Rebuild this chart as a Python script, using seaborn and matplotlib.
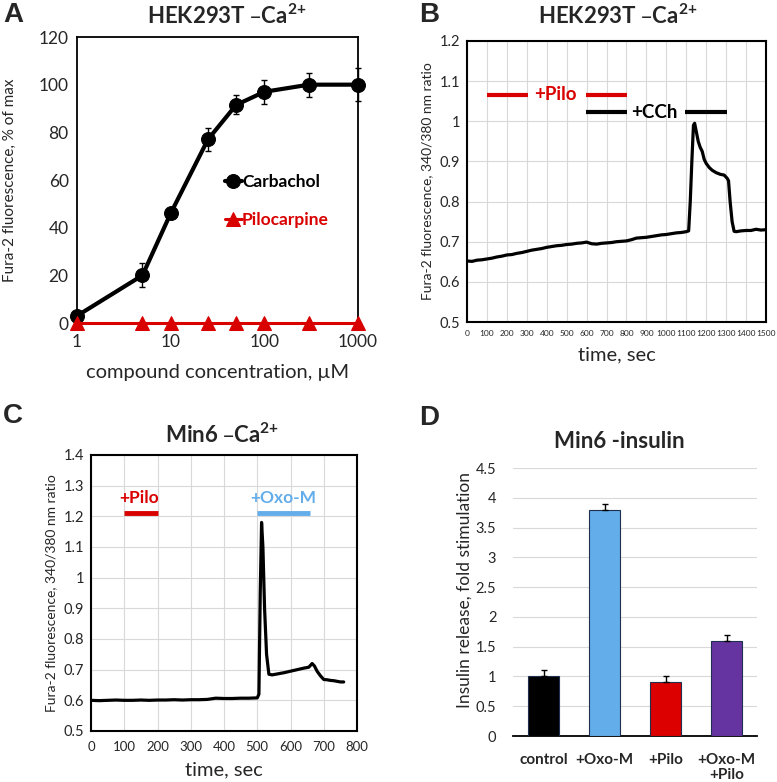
import numpy as np
import pandas as pd
import matplotlib
matplotlib.use("Agg")
import matplotlib.pyplot as plt
from matplotlib.ticker import FuncFormatter, MultipleLocator
import seaborn as sns

# --- Panel A: concentration-response ---
conc = [1, 5, 10, 25, 50, 100, 300, 1000]
carbachol = [3, 20, 46, 77, 91.5, 97, 100, 100]
carbachol_err = [1, 5, 1.5, 5, 4, 5, 5, 7]
pilocarpine = [0, 0, 0, 0, 0, 0, 0, 0]

# --- Panel B: HEK293T trace ---
time_b = [0, 25, 50, 75, 100, 125, 150, 175, 200, 225, 250, 275, 300, 325, 350,
          375, 400, 425, 450, 475, 500, 525, 550, 575, 600, 625, 650, 675, 700,
          725, 750, 775, 800, 825, 850, 875, 900, 925, 950, 975, 1000, 1025,
          1050, 1075, 1100, 1112, 1120, 1128, 1136, 1142, 1150, 1160, 1170,
          1180, 1190, 1200, 1215, 1230, 1250, 1270, 1290, 1305, 1312, 1320,
          1330, 1340, 1350, 1375, 1400, 1425, 1450, 1475, 1500]
ratio_b = [0.652, 0.651, 0.654, 0.655, 0.657, 0.659, 0.662, 0.664, 0.667, 0.668,
           0.671, 0.673, 0.676, 0.679, 0.681, 0.683, 0.686, 0.688, 0.690, 0.691,
           0.693, 0.694, 0.696, 0.697, 0.699, 0.695, 0.694, 0.696, 0.697, 0.698,
           0.700, 0.701, 0.702, 0.705, 0.709, 0.710, 0.711, 0.713, 0.715, 0.717,
           0.718, 0.720, 0.722, 0.723, 0.725, 0.727, 0.800, 0.900, 0.990, 0.995,
           0.975, 0.950, 0.935, 0.925, 0.905, 0.895, 0.885, 0.878, 0.872, 0.868,
           0.866, 0.858, 0.852, 0.800, 0.750, 0.726, 0.725, 0.727, 0.728, 0.728,
           0.731, 0.729, 0.730]

# --- Panel C: Min6 trace ---
time_c = [0, 25, 50, 75, 100, 125, 150, 175, 200, 225, 250, 275, 300, 325, 350,
          375, 400, 425, 450, 475, 500, 505, 509, 513, 517, 522, 528, 535, 545,
          560, 580, 600, 620, 640, 655, 665, 672, 680, 690, 700, 710, 720, 730,
          740, 750, 760]
ratio_c = [0.600, 0.599, 0.600, 0.601, 0.600, 0.600, 0.601, 0.600, 0.601, 0.601,
           0.602, 0.601, 0.602, 0.602, 0.603, 0.607, 0.606, 0.606, 0.607, 0.607,
           0.608, 0.620, 0.950, 1.180, 1.100, 0.900, 0.750, 0.685, 0.683, 0.686,
           0.690, 0.695, 0.700, 0.705, 0.708, 0.720, 0.712, 0.695, 0.680, 0.668,
           0.667, 0.665, 0.664, 0.662, 0.660, 0.660]

# --- Panel D: insulin release ---
groups = ["control", "+Oxo-M", "+Pilo", "+Oxo-M\n+Pilo"]
insulin = [1.0, 3.8, 0.9, 1.6]
insulin_err = [0.1, 0.1, 0.1, 0.1]
bar_colors = ["#000000", "#63ADEA", "#DD0000", "#6634A0"]

sns.set_style("white")
plt.rcParams["font.family"] = ["Lato", "DejaVu Sans"]
plt.rcParams["mathtext.default"] = "regular"

fig = plt.figure(figsize=(7.77, 7.82), dpi=100)
W, H = 777, 782


def box(l, t, r, b):
    return [l / W, 1 - b / H, (r - l) / W, (b - t) / H]


def excel_fmt(v, p):
    return f"{round(v, 2):g}"


grid_col = "#D9D9D9"
red = "#D90000"

# ---------------- A ----------------
axA = fig.add_axes(box(77, 37, 358, 323))
dfA = pd.DataFrame({"conc": conc, "Carbachol": carbachol, "Pilocarpine": pilocarpine})
sns.lineplot(data=dfA, x="conc", y="Carbachol", ax=axA, color="black", lw=3,
             marker="o", markersize=10, markeredgecolor="black", label="Carbachol",
             clip_on=False, zorder=3)
axA.errorbar(conc, carbachol, yerr=carbachol_err, fmt="none", ecolor="black",
             elinewidth=1, capsize=2, zorder=2, clip_on=False)
sns.lineplot(data=dfA, x="conc", y="Pilocarpine", ax=axA, color=red, lw=2.2,
             marker="^", markersize=10, markeredgecolor=red, label="Pilocarpine",
             clip_on=False, zorder=4)
axA.set_xscale("log")
axA.set_xlim(1, 1000)
axA.set_ylim(0, 120)
axA.set_xticks([1, 10, 100, 1000])
axA.set_xticklabels(["1", "10", "100", "1000"])
axA.xaxis.set_minor_locator(plt.NullLocator())
axA.set_yticks(range(0, 121, 20))
axA.tick_params(labelsize=12.5, length=0)
axA.tick_params(axis="x", pad=8)
axA.tick_params(axis="y", pad=6)
for s in axA.spines.values():
    s.set_color("black")
    s.set_linewidth(1.3)
axA.set_xlabel("compound concentration, µM", fontsize=14.5, va="top")
axA.xaxis.set_label_coords(0.5, -0.145)
axA.set_ylabel("Fura-2 fluorescence, % of max", fontsize=11)
axA.yaxis.set_label_coords(-0.215, 0.5)
leg = axA.legend(loc="upper left", bbox_to_anchor=(0.47, 0.575), frameon=False,
                 handlelength=1.0, handletextpad=0.0, labelspacing=1.25,
                 prop={"weight": "bold", "size": 12.5})
for t, c in zip(leg.get_texts(), ["black", red]):
    t.set_color(c)

# ---------------- B ----------------
axB = fig.add_axes(box(467, 41, 766, 322))
sns.lineplot(x=time_b, y=ratio_b, ax=axB, color="black", lw=2.3)
axB.set_xlim(0, 1500)
axB.set_ylim(0.5, 1.2)
axB.xaxis.set_major_locator(MultipleLocator(100))
axB.yaxis.set_major_locator(MultipleLocator(0.1))
axB.yaxis.set_major_formatter(FuncFormatter(excel_fmt))
axB.grid(True, color=grid_col, lw=0.8)
axB.tick_params(axis="x", labelsize=6, length=3, width=1, pad=3)
axB.tick_params(axis="y", labelsize=10.5, length=3, width=1, pad=2)
for s in axB.spines.values():
    s.set_color("black")
    s.set_linewidth(1.5)
axB.plot([100, 305], [1.066, 1.066], color=red, lw=3, solid_capstyle="butt")
axB.plot([595, 805], [1.066, 1.066], color=red, lw=3, solid_capstyle="butt")
axB.text(445, 1.066, "+Pilo", color=red, fontsize=13.5, weight="bold",
         ha="center", va="center")
axB.plot([595, 805], [1.022, 1.022], color="black", lw=3, solid_capstyle="butt")
axB.plot([1095, 1305], [1.022, 1.022], color="black", lw=3, solid_capstyle="butt")
axB.text(940, 1.022, "+CCh", color="black", fontsize=13.5, weight="bold",
         ha="center", va="center")
axB.set_xlabel("time, sec", fontsize=14.5, va="top")
axB.xaxis.set_label_coords(0.5, -0.085)
axB.set_ylabel("Fura-2 fluorescence, 340/380 nm ratio", fontsize=10)
axB.yaxis.set_label_coords(-0.113, 0.5)

# ---------------- C ----------------
axC = fig.add_axes(box(91, 455, 357, 731))
sns.lineplot(x=time_c, y=ratio_c, ax=axC, color="black", lw=2.3)
axC.set_xlim(0, 800)
axC.set_ylim(0.5, 1.4)
axC.xaxis.set_major_locator(MultipleLocator(100))
axC.yaxis.set_major_locator(MultipleLocator(0.1))
axC.yaxis.set_major_formatter(FuncFormatter(excel_fmt))
axC.grid(True, color=grid_col, lw=0.8)
axC.tick_params(axis="x", labelsize=9.5, length=3, width=1, pad=4)
axC.tick_params(axis="y", labelsize=10.5, length=3, width=1, pad=2)
for s in axC.spines.values():
    s.set_color("black")
    s.set_linewidth(1.5)
axC.plot([100, 200], [1.21, 1.21], color=red, lw=3.5, solid_capstyle="butt")
axC.text(145, 1.26, "+Pilo", color=red, fontsize=12.5, weight="bold",
         ha="center", va="center")
axC.plot([500, 660], [1.21, 1.21], color="#63ADEA", lw=3.5, solid_capstyle="butt")
axC.text(579, 1.26, "+Oxo-M", color="#63ADEA", fontsize=12.5, weight="bold",
         ha="center", va="center")
axC.set_xlabel("time, sec", fontsize=14.5, va="top")
axC.xaxis.set_label_coords(0.5, -0.11)
axC.set_ylabel("Fura-2 fluorescence, 340/380 nm ratio", fontsize=10)
axC.yaxis.set_label_coords(-0.128, 0.5)

# ---------------- D ----------------
axD = fig.add_axes(box(513, 468, 757, 736))
dfD = pd.DataFrame({"group": groups, "insulin": insulin})
sns.barplot(data=dfD, x="group", y="insulin", hue="group", palette=bar_colors,
            saturation=1, legend=False, ax=axD, width=0.52, edgecolor="#1F2F4F",
            linewidth=0.8, zorder=3)
axD.errorbar(range(len(groups)), insulin,
             yerr=[[0] * len(groups), insulin_err], fmt="none", ecolor="black",
             elinewidth=1, capsize=2.5, capthick=1, zorder=4)
axD.set_xlim(-0.5, 3.5)
axD.set_ylim(0, 4.5)
axD.yaxis.set_major_locator(MultipleLocator(0.5))
axD.yaxis.set_major_formatter(FuncFormatter(excel_fmt))
axD.grid(True, axis="y", color=grid_col, lw=0.8, zorder=0)
axD.set_axisbelow(True)
for side in ["left", "right", "top"]:
    axD.spines[side].set_visible(False)
axD.spines["bottom"].set_color("black")
axD.spines["bottom"].set_linewidth(1.3)
axD.tick_params(axis="y", labelsize=10.5, length=0, pad=12)
axD.tick_params(axis="x", labelsize=11, length=0, pad=12)
for lab in axD.get_xticklabels():
    lab.set_fontweight("bold")
    lab.set_linespacing(1.15)
axD.set_xlabel("")
axD.set_ylabel("Insulin release, fold stimulation", fontsize=12.5)
axD.yaxis.set_label_coords(-0.165, 0.545)

# ---------------- titles and panel letters ----------------
title_ca = "–Ca$^{2{+}}$"
fig.text(227 / W, 1 - 24 / H, "HEK293T " + title_ca, fontsize=16, weight="bold",
         ha="center", va="baseline")
fig.text(618 / W, 1 - 24 / H, "HEK293T " + title_ca, fontsize=16, weight="bold",
         ha="center", va="baseline")
fig.text(222 / W, 1 - 443 / H, "Min6 " + title_ca, fontsize=16, weight="bold",
         ha="center", va="baseline")
fig.text(619 / W, 1 - 448 / H, "Min6 -insulin", fontsize=16, weight="bold",
         ha="center", va="baseline")

for letter, x, y in [("A", 3, 2), ("B", 419, 2), ("C", 3, 403), ("D", 419, 405)]:
    fig.text(x / W, 1 - y / H, letter, fontsize=20, weight="bold",
             family="Liberation Sans", ha="left", va="top")

fig.savefig("out.png", dpi=100)
